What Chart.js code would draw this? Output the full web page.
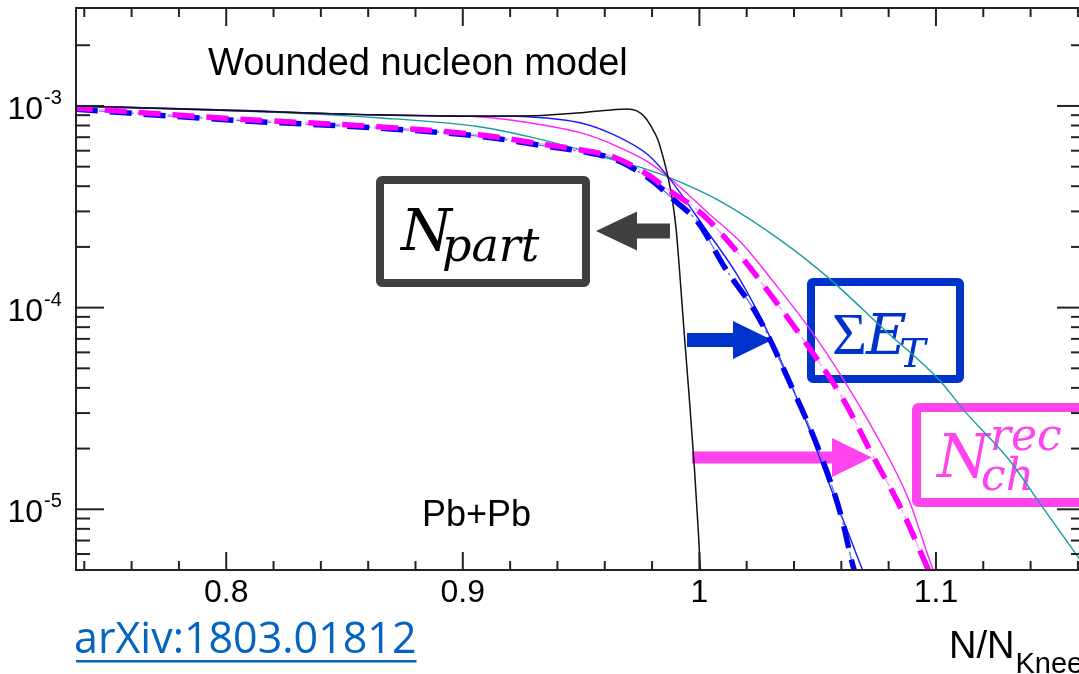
<!DOCTYPE html>
<html lang="en">
<head>
<meta charset="UTF-8">
<title>Wounded nucleon model</title>
<script src="https://cdn.jsdelivr.net/npm/chart.js"></script>
<style>
    html, body { margin: 0; padding: 0; background: #fff; }
    .janela { width: 1079px; height: 674px; overflow: hidden; position: relative; }
    canvas { display: block; }
</style>
</head>
<body>
<div class="janela"><canvas id="grafico" width="1100" height="674"></canvas></div>
<script>
    // N/N_knee values and probabilities for each curve
    var nPartX = [0.7366, 0.78, 0.82, 0.86, 0.90, 0.93, 0.95, 0.9698, 0.9733, 0.9768, 0.9797, 0.9825, 0.9846, 0.9867, 0.9888, 0.9902, 0.9915, 0.9936, 0.9958, 0.9979, 0.9996, 1.0006];
    var nPartY = [1.0e-3, 9.65e-4, 9.35e-4, 9.05e-4, 8.9e-4, 8.95e-4, 9.25e-4, 9.66e-4, 9.48e-4, 8.85e-4, 7.89e-4, 6.78e-4, 5.6e-4, 4.46e-4, 3.29e-4, 2.43e-4, 1.59e-4, 7.43e-5, 3.48e-5, 1.6e-5, 7.6e-6, 4.5e-6];

    var tealX = [0.7364, 0.8042, 0.8653, 0.9076, 0.9288, 0.950, 0.964, 0.9784, 0.9869, 1.008, 1.036, 1.0547, 1.0784, 1.1013, 1.1123, 1.1309, 1.1449, 1.161, 1.166];
    var tealY = [9.94e-4, 9.45e-4, 8.72e-4, 7.87e-4, 7.01e-4, 6.05e-4, 5.39e-4, 4.82e-4, 4.44e-4, 3.41e-4, 2.09e-4, 1.40e-4, 7.73e-5, 4.39e-5, 3.05e-5, 1.76e-5, 1.03e-5, 5.6e-6, 4.6e-6];

    var etX = [0.7364, 0.80, 0.8653, 0.9076, 0.9288, 0.950, 0.964, 0.9784, 0.9869, 1.002, 1.0165, 1.0305, 1.046, 1.0547, 1.063, 1.069, 1.072];
    var etY = [1.0e-3, 9.55e-4, 9.02e-4, 8.92e-4, 8.82e-4, 8.23e-4, 7.18e-4, 5.71e-4, 4.44e-4, 2.51e-4, 1.42e-4, 6.9e-5, 2.57e-5, 1.35e-5, 7.6e-6, 5.0e-6, 4.2e-6];

    var nchX = [0.7364, 0.80, 0.8653, 0.9076, 0.9288, 0.950, 0.964, 0.9784, 0.9869, 1.0038, 1.0178, 1.0318, 1.0462, 1.0602, 1.0742, 1.0886, 1.0983, 1.101];
    var nchY = [1.0e-3, 9.55e-4, 9.02e-4, 8.82e-4, 8.23e-4, 7.35e-4, 6.40e-4, 5.27e-4, 4.44e-4, 2.94e-4, 2.09e-4, 1.32e-4, 7.98e-5, 4.54e-5, 2.40e-5, 1.11e-5, 5.2e-6, 4.4e-6];

    var etRecX = [0.7364, 0.8042, 0.8653, 0.9076, 0.936, 0.950, 0.964, 0.9784, 0.9894, 0.9996, 1.0106, 1.025, 1.039, 1.0504, 1.060, 1.065, 1.067];
    var etRecY = [9.62e-4, 8.48e-4, 7.75e-4, 7.06e-4, 6.3e-4, 5.95e-4, 5.45e-4, 4.39e-4, 3.41e-4, 2.63e-4, 1.59e-4, 8.95e-5, 4.05e-5, 1.98e-5, 9.2e-6, 5.2e-6, 4.4e-6];

    var nchRecX = [0.7364, 0.8042, 0.8653, 0.9076, 0.936, 0.950, 0.964, 0.9784, 0.9869, 0.9966, 1.0038, 1.0178, 1.0318, 1.0462, 1.0602, 1.0742, 1.0856, 1.0962, 1.099];
    var nchRecY = [9.77e-4, 8.62e-4, 7.87e-4, 7.18e-4, 6.4e-4, 6.05e-4, 5.57e-4, 4.55e-4, 3.83e-4, 3.22e-4, 2.72e-4, 1.78e-4, 1.09e-4, 6.37e-5, 3.61e-5, 1.76e-5, 9.9e-6, 5.2e-6, 4.4e-6];

    // axis ticks
    var xMajorTicks = [0.8, 0.9, 1.0, 1.1];
    var xTickLabels = ['0.8', '0.9', '1', '1.1'];
    var xMinorTicks = [0.74, 0.76, 0.78, 0.82, 0.84, 0.86, 0.88, 0.92, 0.94, 0.96, 0.98, 1.02, 1.04, 1.06, 1.08, 1.12, 1.14, 1.16];
    var yMajorTicks = [1e-5, 1e-4, 1e-3];
    var yTickExpoentes = ['-5', '-4', '-3'];
    var yMinorTicks = [6e-6, 7e-6, 8e-6, 9e-6,
        2e-5, 3e-5, 4e-5, 5e-5, 6e-5, 7e-5, 8e-5, 9e-5,
        2e-4, 3e-4, 4e-4, 5e-4, 6e-4, 7e-4, 8e-4, 9e-4,
        2e-3];

    function pontos(xs, ys) {
        return xs.map(function (x, i) { return { x: x, y: ys[i] }; });
    }

    function linha(ctx, x1, y1, x2, y2) {
        ctx.beginPath();
        ctx.moveTo(x1, y1);
        ctx.lineTo(x2, y2);
        ctx.stroke();
    }

    // horizontal block arrow from the tail end to the tip
    function seta(ctx, xCauda, xBase, xPonta, yc, meiaCauda, meiaCabeca, cor) {
        ctx.fillStyle = cor;
        ctx.beginPath();
        ctx.moveTo(xCauda, yc - meiaCauda);
        ctx.lineTo(xBase, yc - meiaCauda);
        ctx.lineTo(xBase, yc - meiaCabeca);
        ctx.lineTo(xPonta, yc);
        ctx.lineTo(xBase, yc + meiaCabeca);
        ctx.lineTo(xBase, yc + meiaCauda);
        ctx.lineTo(xCauda, yc + meiaCauda);
        ctx.closePath();
        ctx.fill();
    }

    function caixa(ctx, x, y, w, h, lw, cor) {
        ctx.strokeStyle = cor;
        ctx.lineWidth = lw;
        ctx.lineJoin = 'round';
        ctx.beginPath();
        ctx.roundRect(x, y, w, h, 2);
        ctx.stroke();
    }

    var molduraPlugin = {
        id: 'moldura',
        beforeDatasetsDraw: function (chart) {
            var ctx = chart.ctx;
            ctx.save();
            // N_part label
            caixa(ctx, 380, 180, 206, 103, 8, '#404040');
            seta(ctx, 670, 637, 596, 231, 7.5, 19.5, '#404040');
            ctx.fillStyle = '#000';
            ctx.font = 'italic 58px "DejaVu Serif"';
            ctx.fillText('N', 401, 250);
            ctx.font = 'italic 46px "DejaVu Serif"';
            ctx.fillText('part', 442, 261);

            // Sum E_T label
            caixa(ctx, 811, 282, 149, 97, 8, '#0033cc');
            seta(ctx, 687, 733, 772, 340, 7, 19, '#0033cc');
            ctx.fillStyle = '#0033cc';
            ctx.font = '60px "Liberation Serif"';
            ctx.fillText('\u03A3', 832, 354);
            ctx.font = 'italic 56px "DejaVu Serif"';
            ctx.fillText('E', 866, 354);
            ctx.font = 'italic 40px "DejaVu Serif"';
            ctx.fillText('T', 899, 367);

            // N_ch^rec label
            caixa(ctx, 916.5, 407.5, 220, 95, 9, '#ff44ee');
            seta(ctx, 692, 832, 872, 457.5, 6, 19.5, '#ff44ee');
            ctx.fillStyle = '#ff44ee';
            ctx.font = 'italic 60px "DejaVu Serif"';
            ctx.fillText('N', 937, 477);
            ctx.font = 'italic 44px "DejaVu Serif"';
            ctx.fillText('rec', 990, 450);
            ctx.fillText('ch', 981, 490);
            ctx.restore();
        },
        afterDatasetsDraw: function (chart) {
            var ctx = chart.ctx;
            var a = chart.chartArea;
            var sx = chart.scales.x;
            var sy = chart.scales.y;
            ctx.save();
            ctx.strokeStyle = '#222';
            ctx.lineWidth = 2;
            ctx.strokeRect(a.left, a.top, a.right - a.left, a.bottom - a.top);

            xMinorTicks.forEach(function (v) {
                var p = sx.getPixelForValue(v);
                linha(ctx, p, a.bottom, p, a.bottom - 9);
                linha(ctx, p, a.top, p, a.top + 9);
            });
            xMajorTicks.forEach(function (v) {
                var p = sx.getPixelForValue(v);
                linha(ctx, p, a.bottom, p, a.bottom - 18);
                linha(ctx, p, a.top, p, a.top + 18);
            });
            yMinorTicks.forEach(function (v) {
                var p = sy.getPixelForValue(v);
                linha(ctx, a.left, p, a.left + 14, p);
                linha(ctx, a.right, p, a.right - 14, p);
            });
            yMajorTicks.forEach(function (v) {
                var p = sy.getPixelForValue(v);
                linha(ctx, a.left, p, a.left + 28, p);
                linha(ctx, a.right, p, a.right - 28, p);
            });

            ctx.fillStyle = '#000';
            ctx.font = '32px "Liberation Sans"';
            ctx.textAlign = 'center';
            xMajorTicks.forEach(function (v, i) {
                ctx.fillText(xTickLabels[i], sx.getPixelForValue(v), 602);
            });
            yMajorTicks.forEach(function (v, i) {
                var p = sy.getPixelForValue(v);
                ctx.textAlign = 'right';
                ctx.font = '32px "Liberation Sans"';
                ctx.fillText('10', 43, p + 13);
                ctx.textAlign = 'left';
                ctx.font = '20px "Liberation Sans"';
                ctx.fillText(yTickExpoentes[i], 44, p - 2);
            });

            ctx.textAlign = 'left';
            ctx.font = '38px "Liberation Sans"';
            ctx.fillText('Wounded nucleon model', 208, 75);
            ctx.font = '36px "Liberation Sans"';
            ctx.fillText('Pb+Pb', 422, 526);

            // axis title
            ctx.font = '38px "Liberation Sans"';
            ctx.fillText('N/N', 949, 658);
            var w = ctx.measureText('N/N').width;
            ctx.font = '29px "Liberation Sans"';
            ctx.fillText('Knee', 950 + w, 673);

            // reference link
            ctx.fillStyle = '#0563c1';
            ctx.font = '43px "Open Sans"';
            ctx.fillText('arXiv:1803.01812', 74, 653);
            var wl = ctx.measureText('arXiv:1803.01812').width;
            ctx.fillRect(76, 660, wl - 2, 2.5);
            ctx.restore();
        }
    };

    var fino = { pointRadius: 0, fill: false, cubicInterpolationMode: 'monotone' };

    const chart = new Chart('grafico', {
        type: 'line',
        data: {
            datasets: [
                Object.assign({ label: 'Nch rec', data: pontos(nchRecX, nchRecY), borderColor: '#ff00ff', borderWidth: 5.5, borderDash: [22, 12], borderDashOffset: 5 }, fino),
                Object.assign({ label: 'ET rec', data: pontos(etRecX, etRecY), borderColor: '#0000f0', borderWidth: 5.5, borderDash: [22, 12] }, fino),
                Object.assign({ label: 'Nch rec fit', data: pontos(nchRecX, nchRecY), borderColor: '#ff99ff', borderWidth: 1.3, borderDash: [12, 4, 3, 4] }, fino),
                Object.assign({ label: 'ET rec fit', data: pontos(etRecX, etRecY), borderColor: '#5577ff', borderWidth: 1.3, borderDash: [12, 4, 3, 4] }, fino),
                Object.assign({ label: 'Npart', data: pontos(nPartX, nPartY), borderColor: '#111111', borderWidth: 1.5 }, fino),
                Object.assign({ label: 'ET', data: pontos(etX, etY), borderColor: '#1a1aff', borderWidth: 1.4 }, fino),
                Object.assign({ label: 'Nch', data: pontos(nchX, nchY), borderColor: '#ff22ff', borderWidth: 1.4 }, fino),
                Object.assign({ label: 'teal', data: pontos(tealX, tealY), borderColor: '#179c9c', borderWidth: 1.4 }, fino)
            ]
        },
        options: {
            responsive: false,
            animation: false,
            devicePixelRatio: 1,
            layout: { padding: { left: 76, right: 15, top: 8, bottom: 104 } },
            plugins: { legend: { display: false }, title: { display: false }, tooltip: { enabled: false } },
            scales: {
                x: { type: 'linear', min: 0.7365, max: 1.163, display: false },
                y: { type: 'logarithmic', min: 5e-6, max: 3.06e-3, display: false }
            }
        },
        plugins: [molduraPlugin]
    });
</script>
</body>
</html>
